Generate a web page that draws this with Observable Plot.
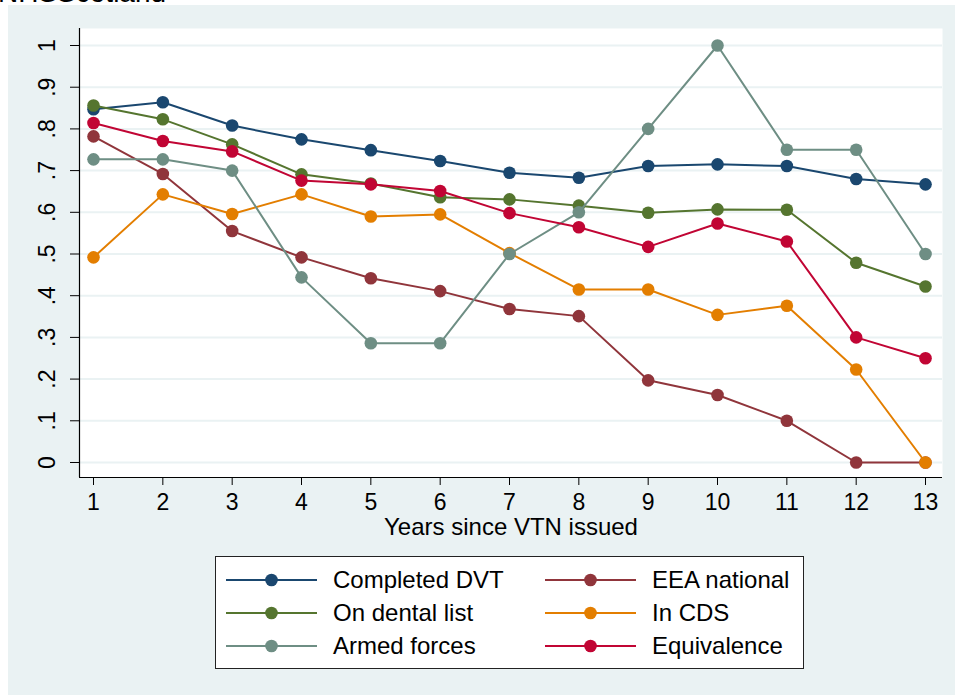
<!DOCTYPE html>
<html><head><meta charset="utf-8">
<script src="https://cdn.jsdelivr.net/npm/d3@7"></script>
<script src="https://cdn.jsdelivr.net/npm/@observablehq/plot@0.6"></script>
<style>
body{margin:0;background:#fff;width:955px;height:695px;overflow:hidden;position:relative;font-family:"Liberation Sans",Arial,sans-serif;}
#bg{position:absolute;left:8px;top:5px;right:0;bottom:0;background:#eaf2f3;}
#title{position:absolute;left:-2px;top:-21px;font-size:28px;line-height:28px;color:#000;white-space:nowrap;z-index:2;}
#chart{position:absolute;left:0;top:0;}
#legend{position:absolute;left:215px;top:556px;border:1px solid #222;background:#fff;
  display:grid;grid-template-columns:319px 1fr;grid-auto-rows:33.3px;padding:6px 0 0 10px;box-sizing:border-box;width:589px;height:113px;}
.item{display:flex;align-items:center;gap:16px;font-size:24px;color:#000;white-space:nowrap;}
.item svg{display:block;flex:none;}
</style>
</head><body>
<div id="bg"></div>
<div id="chart"></div>
<div id="title"></div>
<div id="legend"></div>
<script>
const title = "NHSScotland";
const xLabel = "Years since VTN issued";
const years = [1,2,3,4,5,6,7,8,9,10,11,12,13];
const seriesNames = ["Completed DVT","EEA national","On dental list","In CDS","Armed forces","Equivalence"];
const seriesColors = ["#1a476f","#90353b","#55752f","#e37e00","#6e8e84","#c10534"];
const completedDVT = [0.847,0.864,0.808,0.775,0.749,0.723,0.695,0.683,0.711,0.715,0.711,0.680,0.667];
const eeaNational  = [0.782,0.692,0.555,0.492,0.442,0.411,0.368,0.351,0.197,0.162,0.100,0.000,0.000];
const onDentalList = [0.856,0.823,0.763,0.691,0.669,0.636,0.631,0.616,0.599,0.607,0.606,0.479,0.422];
const inCDS        = [0.492,0.643,0.596,0.643,0.590,0.595,0.502,0.415,0.415,0.354,0.376,0.223,0.000];
const armedForces  = [0.727,0.727,0.700,0.444,0.286,0.286,0.500,0.600,0.800,1.000,0.750,0.750,0.500];
const equivalence  = [0.814,0.771,0.746,0.676,0.667,0.651,0.598,0.564,0.517,0.573,0.530,0.300,0.250];
const seriesValues = [completedDVT, eeaNational, onDentalList, inCDS, armedForces, equivalence];
const yTicks = [0,0.1,0.2,0.3,0.4,0.5,0.6,0.7,0.8,0.9,1];
const yTickLabels = ["0",".1",".2",".3",".4",".5",".6",".7",".8",".9","1"];
const xTickLabels = ["1","2","3","4","5","6","7","8","9","10","11","12","13"];

const xDomain = [0.798, 13.245];
const yDomain = [-0.036, 1.0408];

const rows = seriesNames.flatMap((s, i) => years.map((yr, j) => ({series: s, year: yr, value: seriesValues[i][j]})));

document.getElementById("title").textContent = title;

const seriesMarks = seriesNames.flatMap((s, i) => {
  const d = rows.filter(r => r.series === s);
  return [
    Plot.line(d, {x: "year", y: "value", stroke: seriesColors[i], strokeWidth: 2}),
    Plot.dot(d, {x: "year", y: "value", fill: seriesColors[i], r: 6.3, stroke: null})
  ];
});

const chart = Plot.plot({
  width: 955,
  height: 545,
  marginTop: 28,
  marginLeft: 79,
  marginRight: 13,
  marginBottom: 68,
  style: {background: "transparent", fontFamily: "'Liberation Sans', Arial, sans-serif", color: "#000", overflow: "visible"},
  x: {domain: xDomain, label: null},
  y: {domain: yDomain, label: null},
  marks: [
    Plot.frame({fill: "white", stroke: null}),
    Plot.gridY(yTicks, {stroke: "#eaf2f3", strokeOpacity: 1, strokeWidth: 2}),
    Plot.axisY({ticks: yTicks, tickSize: 9, tickFormat: () => "", label: null, stroke: "#000", strokeWidth: 1}),
    Plot.text(yTicks, {x: xDomain[0], y: d => d, text: (d, i) => yTickLabels[i], rotate: -90, dx: -32, fontSize: 23, textAnchor: "middle", lineAnchor: "middle", fill: "#000"}),
    Plot.axisX({ticks: years, tickSize: 8, tickPadding: 8, fontSize: 23, tickFormat: (d, i) => xTickLabels[i], label: null, stroke: "#000", fill: "#000"}),
    Plot.text([xLabel], {text: d => d, frameAnchor: "bottom", dy: 50, fontSize: 24, lineAnchor: "middle", fill: "#000"}),
    Plot.ruleX([xDomain[0]], {stroke: "#000", strokeWidth: 1.2}),
    Plot.ruleY([yDomain[0]], {stroke: "#000", strokeWidth: 1.2}),
    ...seriesMarks
  ]
});
document.getElementById("chart").appendChild(chart);

const legend = document.getElementById("legend");
seriesNames.forEach((s, i) => {
  const item = document.createElement("div");
  item.className = "item";
  item.innerHTML = `<svg width="91" height="14"><line x1="0" x2="91" y1="7" y2="7" stroke="${seriesColors[i]}" stroke-width="2"/><circle cx="45.5" cy="7" r="6.3" fill="${seriesColors[i]}"/></svg><span>${s}</span>`;
  legend.appendChild(item);
});
</script>
</body></html>
